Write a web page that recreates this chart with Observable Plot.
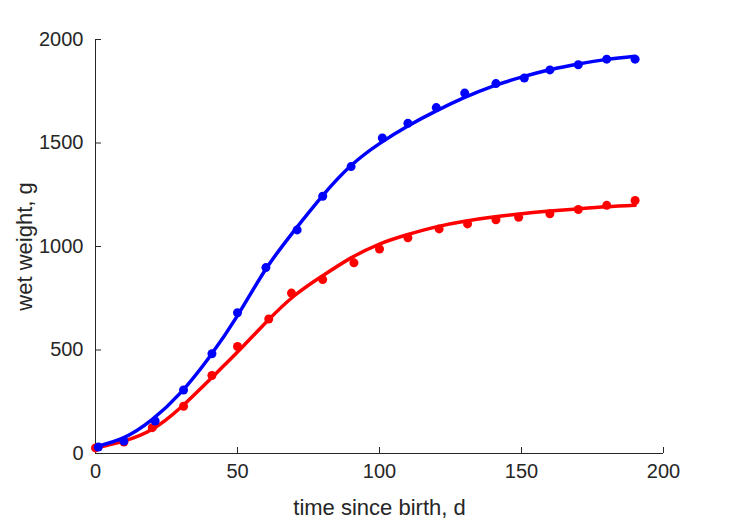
<!DOCTYPE html>
<html>
<head>
<meta charset="utf-8">
<script src="https://cdn.jsdelivr.net/npm/d3@7"></script>
<script src="https://cdn.jsdelivr.net/npm/@observablehq/plot@0.6"></script>
<style>
  html, body { margin: 0; padding: 0; background: #ffffff; }
  #chart svg { display: block; }
</style>
</head>
<body>
<div id="chart"></div>
<script>
// Observed data: time since birth (d) and wet weight (g)
const blueObsT = [1, 10, 21, 31, 41, 50, 60, 71, 80, 90, 101, 110, 120, 130, 141, 151, 160, 170, 180, 190];
const blueObsW = [31, 60, 157, 307, 482, 680, 898, 1080, 1243, 1386, 1524, 1595, 1671, 1741, 1787, 1814, 1853, 1878, 1905, 1905];
const redObsT  = [0, 10, 20, 31, 41, 50, 61, 69, 80, 91, 100, 110, 121, 131, 141, 149, 160, 170, 180, 190];
const redObsW  = [27, 55, 125, 228, 377, 517, 650, 775, 840, 921, 988, 1042, 1085, 1109, 1129, 1141, 1158, 1179, 1199, 1222];

// Fitted curves
const fitT  = [0, 10, 20, 30, 40, 50, 60, 70, 80, 90, 100, 110, 120, 130, 140, 150, 160, 170, 180, 190];
const blueFitW = [33, 77, 165, 294, 464, 666, 891, 1077, 1246, 1391, 1497, 1582, 1655, 1720, 1775, 1818, 1854, 1882, 1904, 1919];
const redFitW  = [27, 60, 117, 222, 354, 490, 633, 762, 859, 945, 1012, 1058, 1095, 1122, 1142, 1158, 1171, 1182, 1192, 1199];

const xTicks = [0, 50, 100, 150, 200];
const yTicks = [0, 500, 1000, 1500, 2000];

const blueObs = blueObsT.map((t, i) => ({t, w: blueObsW[i]}));
const redObs  = redObsT.map((t, i) => ({t, w: redObsW[i]}));
const blueFit = fitT.map((t, i) => ({t, w: blueFitW[i]}));
const redFit  = fitT.map((t, i) => ({t, w: redFitW[i]}));

const axisColor = "#262626";
const plain = d => String(d);

const chart = Plot.plot({
  width: 729,
  height: 521,
  marginLeft: 95,
  marginRight: 66,
  marginTop: 39,
  marginBottom: 68,
  style: {
    fontFamily: "'Liberation Sans', Arial, Helvetica, sans-serif",
    fontSize: "20px",
    color: axisColor,
    background: "#ffffff",
    overflow: "visible"
  },
  x: {domain: [0, 200]},
  y: {domain: [0, 2000]},
  marks: [
    Plot.ruleY([0], {stroke: axisColor, strokeWidth: 1}),
    Plot.ruleX([0], {stroke: axisColor, strokeWidth: 1}),
    // inward tick marks (drawn outward, then shifted inside the frame)
    Plot.axisX({ticks: xTicks, tickSize: 6, dy: -6, stroke: axisColor, fill: "none", label: null}),
    Plot.axisY({ticks: yTicks, tickSize: 6, dx: 6, stroke: axisColor, fill: "none", label: null}),
    // tick labels and axis titles
    Plot.axisX({ticks: xTicks, tickFormat: plain, tickSize: 0, tickPadding: 10, fill: axisColor, fontSize: 20,
      label: "time since birth, d", labelAnchor: "center", labelArrow: "none", labelOffset: 61}),
    Plot.axisY({ticks: yTicks, tickFormat: plain, tickSize: 0, tickPadding: 12, fill: axisColor, fontSize: 20,
      label: "wet weight, g", labelAnchor: "center", labelArrow: "none", labelOffset: 79}),
    Plot.dot(redObs, {x: "t", y: "w", r: 4.5, fill: "#ff0000", stroke: "none"}),
    Plot.line(redFit, {x: "t", y: "w", stroke: "#ff0000", strokeWidth: 3.5, curve: "natural"}),
    Plot.dot(blueObs, {x: "t", y: "w", r: 4.5, fill: "#0000ff", stroke: "none"}),
    Plot.line(blueFit, {x: "t", y: "w", stroke: "#0000ff", strokeWidth: 3.5, curve: "natural"})
  ]
});

document.getElementById("chart").append(chart);
// axis titles slightly larger than tick labels
chart.querySelectorAll("g[aria-label='x-axis label'] text, g[aria-label='y-axis label'] text").forEach(t => t.setAttribute("font-size", "22"));
</script>
</body>
</html>
